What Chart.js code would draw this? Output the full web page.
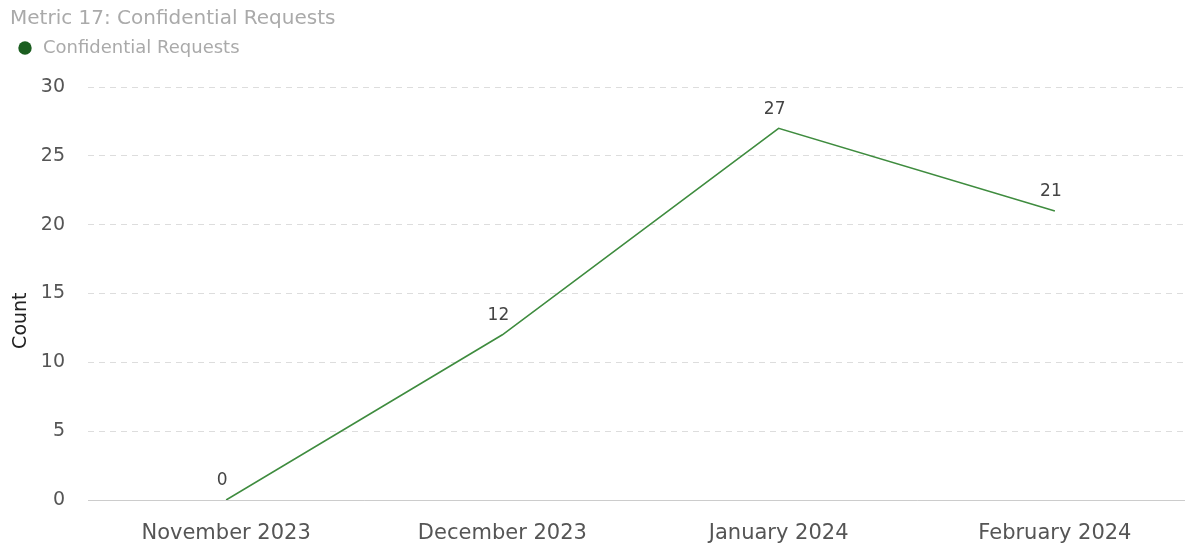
<!DOCTYPE html>
<html>
<head>
<meta charset="utf-8">
<script src="https://cdn.jsdelivr.net/npm/chart.js@4"></script>
<style>
  html, body { margin: 0; padding: 0; background: #fff; overflow: hidden; }
  /* plot runs a few px past the right edge in the original */
  #wrap { width: 1193px; height: 543px; }
</style>
</head>
<body>
<div id="wrap"><canvas id="cv"></canvas></div>
<script>
const months = ['November 2023', 'December 2023', 'January 2024', 'February 2024'];
const requests = [0, 12, 27, 21];
const seriesName = 'Confidential Requests';
const chartTitle = 'Metric 17: Confidential Requests';

const FONT = '"DejaVu Sans", Verdana, sans-serif';

// numbers over the line
const valueLabels = {
  id: 'valueLabels',
  afterDatasetsDraw(chart) {
    let ctx = chart.ctx;
    let meta = chart.getDatasetMeta(0);
    ctx.save();
    ctx.font = '17px ' + FONT;
    ctx.fillStyle = '#444';
    ctx.textAlign = 'center';
    ctx.textBaseline = 'middle';
    meta.data.forEach((pt, i) => {
      ctx.fillText(chart.data.datasets[0].data[i], pt.x - 4, pt.y - 19);
    });
    ctx.restore();
  }
};

// push the plot down a bit below the legend
const legendGap = {
  id: 'legendGap',
  beforeInit(chart) {
    const fit = chart.legend.fit;
    chart.legend.fit = function () {
      fit.bind(chart.legend)();
      this.height += 20;
    };
  }
};

let chart = new Chart(document.getElementById('cv'), {
  type: 'line',
  data: {
    labels: months,
    datasets: [{
      label: seriesName,
      data: requests,
      borderColor: '#3f8c3f',
      backgroundColor: '#1b5e20',
      borderWidth: 1.6,
      pointRadius: 0,
      tension: 0
    }]
  },
  options: {
    responsive: true,
    maintainAspectRatio: false,
    animation: false,
    layout: { padding: { left: 10, right: 0, top: 7, bottom: 0 } },
    plugins: {
      title: {
        display: true,
        text: chartTitle,
        align: 'start',
        color: '#aaaaaa',
        font: { family: FONT, size: 20, weight: 'normal' },
        padding: { top: 0, bottom: 2 }
      },
      legend: {
        display: true,
        align: 'start',
        labels: {
          usePointStyle: true,
          boxWidth: 18,
          boxHeight: 9.5,
          color: '#aaaaaa',
          font: { family: FONT, size: 18 },
          padding: 6,
          generateLabels: c => [{
            text: seriesName,
            fillStyle: '#1b5e20',
            strokeStyle: '#1b5e20',
            fontColor: '#aaaaaa',
            lineWidth: 0,
            pointStyle: 'circle',
            datasetIndex: 0
          }]
        }
      },
      tooltip: { enabled: false }
    },
    scales: {
      x: {
        offset: true,
        grid: { display: false },
        border: { display: true, color: '#cccccc', width: 1 },
        ticks: { color: '#555', font: { family: FONT, size: 21 }, padding: 13, maxRotation: 0 },
        afterFit: s => { s.height = 43; }
      },
      y: {
        min: 0,
        max: 30,
        ticks: { stepSize: 5, color: '#555', font: { family: FONT, size: 19 }, padding: 23 },
        grid: { color: '#dddddd', lineWidth: 1, drawTicks: false },
        border: { display: false, dash: [6, 5] },
        // trailing spaces nudge the rotated title lower, like the original
        title: { display: true, text: 'Count         ', color: '#222', font: { family: FONT, size: 19 }, padding: 0 },
        afterFit: s => { s.width = 78; }
      }
    }
  },
  plugins: [valueLabels, legendGap]
});
</script>
</body>
</html>
